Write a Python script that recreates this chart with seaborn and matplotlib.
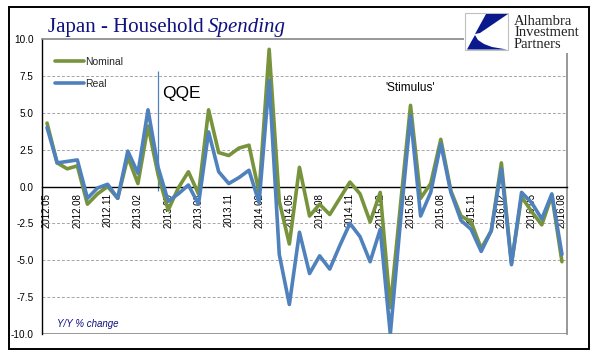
import numpy as np
import pandas as pd
import seaborn as sns
import matplotlib
matplotlib.use("Agg")
from matplotlib import pyplot as plt
from matplotlib.patches import Rectangle, Polygon

# monthly Y/Y % change, 2012.05 .. 2016.08
nominal = [4.3, 1.6, 1.2, 1.4, -1.2, -0.5, 0.0, -0.8, 2.0, 0.2, 4.1, 0.8,
           -1.6, -0.1, 1.0, -0.5, 5.2, 2.3, 2.1, 2.6, 2.8, -0.4, 9.3, -1.0,
           -3.9, 1.3, -2.0, -1.2, -1.9, -0.8, 0.3, -0.5, -2.4, -0.4, -8.2, -1.3,
           5.5, -0.8, 0.2, 3.2, -0.3, -2.0, -2.4, -4.2, -3.0, 1.6, -5.2, -0.7,
           -1.7, -2.6, -0.6, -5.1]
real = [4.0, 1.6, 1.7, 1.8, -0.8, -0.1, 0.15, -0.8, 2.4, 0.9, 5.2, 1.3,
        -1.0, -0.5, 0.1, -1.2, 3.7, 1.0, 0.2, 0.6, 1.1, -1.1, 7.2, -4.6,
        -8.0, -3.1, -5.9, -4.7, -5.6, -4.0, -2.5, -3.4, -5.1, -2.9, -10.0, -2.4,
        4.8, -2.0, -0.4, 2.9, -0.4, -2.3, -2.9, -4.4, -3.0, 1.2, -5.3, -0.4,
        -1.1, -2.2, -0.5, -4.6]
tick_labels = ["2012.05", "2012.08", "2012.11", "2013.02", "2013.05", "2013.08",
               "2013.11", "2014.02", "2014.05", "2014.08", "2014.11", "2015.02",
               "2015.05", "2015.08", "2015.11", "2016.02", "2016.05", "2016.08"]
qqe_month = 11        # 2013.04
stimulus_month = 36   # 2015.05

GREEN = "#77933C"
BLUE = "#4F81BD"
NAVY = "#10107F"

n = len(nominal)
df = pd.DataFrame({
    "month": list(range(n)) * 2,
    "value": nominal + real,
    "series": ["Nominal"] * n + ["Real"] * n,
})

sns.set_style("white")
plt.rcParams["font.family"] = ["Liberation Sans", "DejaVu Sans"]

W, H = 596, 361
fig = plt.figure(figsize=(W / 100, H / 100), dpi=100)
fig.patch.set_facecolor("white")
ax = fig.add_axes([42 / W, 1 - 334 / H, (567 - 42) / W, (334 - 39) / H])

sns.lineplot(data=df, x="month", y="value", hue="series",
             palette={"Nominal": GREEN, "Real": BLUE}, linewidth=2.6,
             sort=False, ax=ax, zorder=3)

ax.set_xlim(-0.5, n - 0.5)
ax.set_ylim(-10, 10)
ax.set_xlabel("")
ax.set_ylabel("")

yt = np.arange(-10, 10.1, 2.5)
ax.set_yticks(yt)
ax.set_yticklabels([f"{v:.1f}" for v in yt])
for v in [-7.5, -5.0, -2.5, 2.5, 5.0, 7.5]:
    ax.axhline(v, color="#A6A6A6", lw=0.7, ls=(0, (3, 2)), zorder=1)
ax.axhline(-10, color="#868686", lw=1.2, zorder=1)

ax.set_xticks(range(0, n, 3))
ax.set_xticklabels(tick_labels)
ax.tick_params(axis="x", direction="out", length=3, width=0.8, pad=1.5,
               labelsize=7, colors="black", labelrotation=90)
ax.tick_params(axis="y", direction="out", length=3, width=0.8, pad=3,
               labelsize=7.2, colors="black")
for lab in ax.get_xticklabels():
    lab.set_verticalalignment("top")
    lab.set_horizontalalignment("center")

ax.spines["bottom"].set_position(("data", 0))
ax.spines["bottom"].set_color("black")
ax.spines["bottom"].set_linewidth(1.0)
ax.spines["left"].set_color("black")
ax.spines["left"].set_linewidth(1.0)
for s in ["top", "right"]:
    ax.spines[s].set_color("#868686")
    ax.spines[s].set_linewidth(1.2)

# QQE marker
ax.vlines(qqe_month, -0.3, 7.8, color=BLUE, lw=0.9, zorder=2)
ax.text(qqe_month + 0.4, 6.3, "QQE", fontsize=12.5, color="black", va="center", ha="left")
ax.text(stimulus_month, 6.65, "'Stimulus'", fontsize=8.5, color="black",
        va="center", ha="center")
ax.text(1.0, -9.3, "Y/Y % change", fontsize=7, style="italic", color=NAVY,
        va="center", ha="left")

leg = ax.legend(loc="upper left", bbox_to_anchor=(0.01, 0.965), frameon=False,
                fontsize=7.5, handlelength=2.8, handletextpad=0.1,
                labelspacing=1.2, borderaxespad=0.3)
for line in leg.get_lines():
    line.set_linewidth(2.6)

# overlay in pixel coordinates for frame, title and logo
ov = fig.add_axes([0, 0, 1, 1], zorder=5)
ov.set_xlim(0, W)
ov.set_ylim(H, 0)
ov.axis("off")
ov.patch.set_alpha(0)

ov.add_patch(Rectangle((9, 7), 580, 342, fill=False, edgecolor="black", lw=1.4))

t1 = ov.text(48, 32, "Japan - Household", fontfamily="Liberation Serif",
             fontsize=15, color=NAVY, va="baseline", ha="left")
fig.canvas.draw()
bb = t1.get_window_extent()
x_end = bb.x1 + 4
ov.text(x_end, 32, "Spending", fontfamily="Liberation Serif", fontsize=15,
        style="italic", color=NAVY, va="baseline", ha="left")

# logo
ov.add_patch(Rectangle((464, 9), 124, 44, facecolor="white", edgecolor="none"))
ov.add_patch(Rectangle((465, 13), 43, 37, facecolor="white", edgecolor="#C0C0C0", lw=0.8))
ov.add_patch(Polygon([(486, 14), (508, 14), (480, 33), (475, 34)],
                     closed=True, facecolor="#0A1A8C", edgecolor="none"))
ov.add_patch(Polygon([(475, 35), (478, 40), (484, 44), (492, 47), (507, 49.5),
                      (467, 49.5), (471, 42)],
                     closed=True, facecolor="#0A1A8C", edgecolor="none"))
for i, word in enumerate(["Alhambra", "Investment", "Partners"]):
    ov.text(514, 25 + 11.5 * i, word, fontfamily="Liberation Serif", fontsize=10.5,
            color="#222222", va="baseline", ha="left")

fig.savefig("out.png", dpi=100, facecolor="white")
